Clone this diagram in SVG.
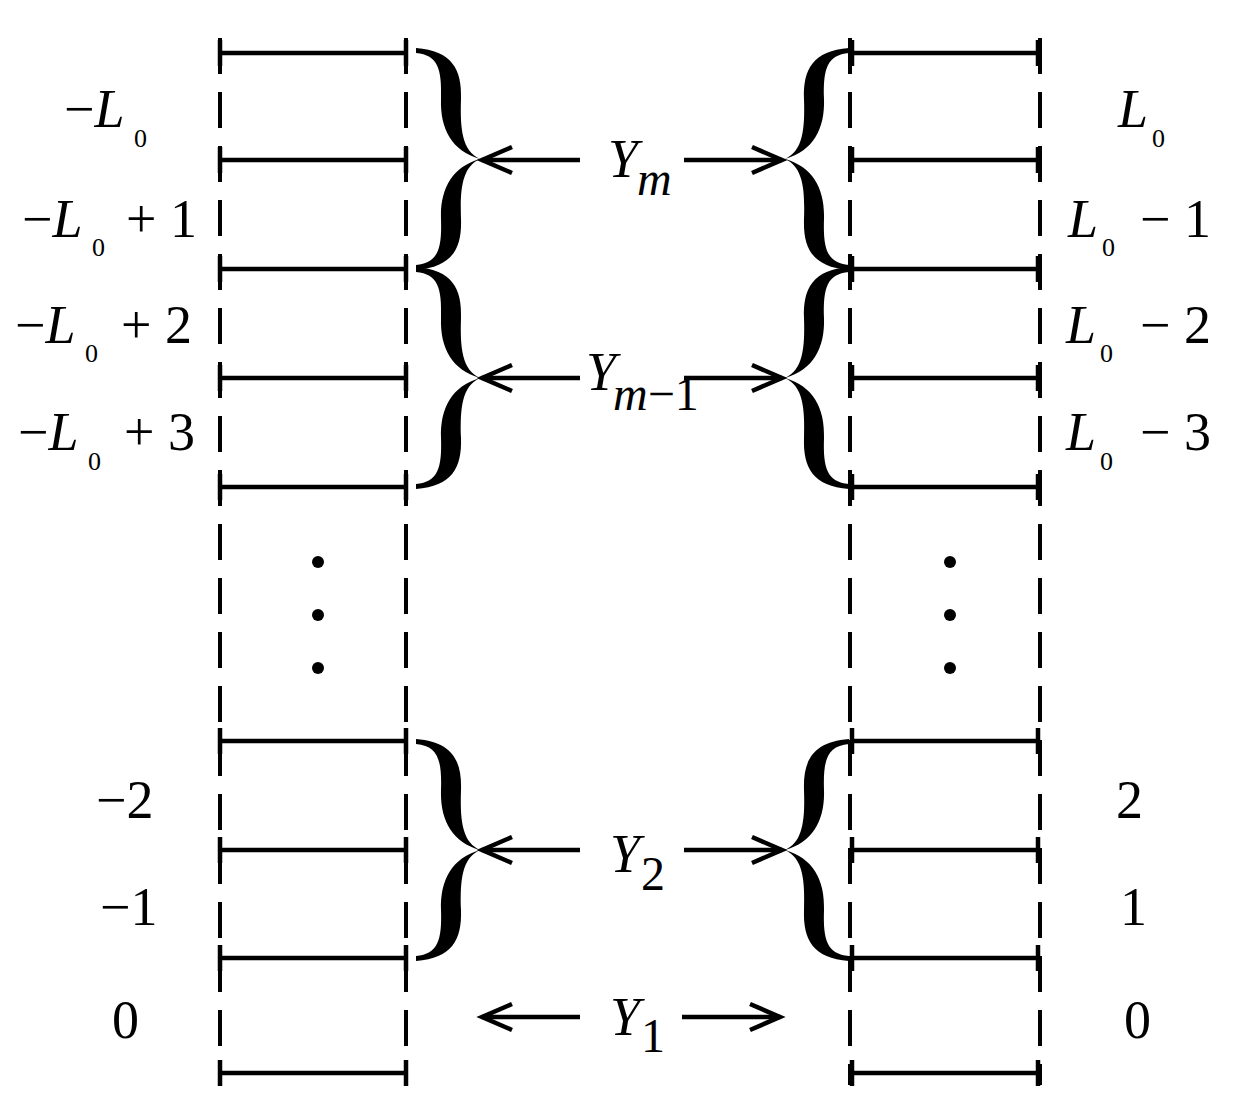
<svg xmlns="http://www.w3.org/2000/svg" width="1248" height="1102" viewBox="0 0 1248 1102" font-family="Liberation Serif, Times New Roman, serif">
<style>
.s{stroke:#000;stroke-width:4.5;fill:none}
.d{stroke:#000;stroke-width:4;fill:none;stroke-dasharray:36 18}
text{font-family:'Liberation Serif','Times New Roman',serif;fill:#000}
.b{font-size:54px}
.sub{font-size:26px}
.i{font-style:italic}
</style>
<defs>
<g id="half"><path d="M-64,-111 C-28,-108 -18,-90 -19,-60 C-20,-30 -18,-8 0,0 C-28,-8 -40,-30 -39,-60 C-38,-90 -42,-104 -64,-106 Z" fill="#000"/></g>
<g id="brace"><use href="#half"/><use href="#half" transform="scale(1,-1)"/></g>
<g id="bar"><line x1="0" y1="0" x2="186" y2="0" class="s"/><line x1="0" y1="-13" x2="0" y2="13" class="s"/><line x1="186" y1="-13" x2="186" y2="13" class="s"/></g>
<g id="la"><line x1="0" y1="0" x2="98" y2="0" class="s"/><polyline points="30,-13 0,0 30,13" class="s"/></g>
</defs>
<g id="columns">
<line x1="220" y1="38" x2="220" y2="1085" class="d"/>
<line x1="406" y1="38" x2="406" y2="1085" class="d"/>
<line x1="850" y1="38" x2="850" y2="1085" class="d"/>
<line x1="1040" y1="38" x2="1040" y2="1085" class="d"/>
</g>
<g id="bars">
<use href="#bar" x="220" y="53"/><use href="#bar" x="220" y="160"/><use href="#bar" x="220" y="269"/><use href="#bar" x="220" y="378"/><use href="#bar" x="220" y="487"/><use href="#bar" x="220" y="741"/><use href="#bar" x="220" y="850"/><use href="#bar" x="220" y="958"/><use href="#bar" x="220" y="1073"/>
<use href="#bar" x="852" y="53"/><use href="#bar" x="852" y="160"/><use href="#bar" x="852" y="269"/><use href="#bar" x="852" y="378"/><use href="#bar" x="852" y="487"/><use href="#bar" x="852" y="741"/><use href="#bar" x="852" y="850"/><use href="#bar" x="852" y="958"/><use href="#bar" x="852" y="1073"/>
</g>
<g id="braces">
<use href="#brace" transform="translate(480,159)"/>
<use href="#brace" transform="translate(480,378)"/>
<use href="#brace" transform="translate(480,850)"/>
<use href="#brace" transform="translate(785,159) scale(-1,1)"/>
<use href="#brace" transform="translate(785,378) scale(-1,1)"/>
<use href="#brace" transform="translate(785,850) scale(-1,1)"/>
</g>
<g id="connectors">
<use href="#la" x="482" y="160"/><use href="#la" transform="translate(782,160) scale(-1,1)"/>
<use href="#la" x="482" y="378"/><use href="#la" transform="translate(782,378) scale(-1,1)"/>
<use href="#la" x="482" y="850"/><use href="#la" transform="translate(782,850) scale(-1,1)"/>
<use href="#la" x="482" y="1017"/><use href="#la" transform="translate(780,1017) scale(-1,1)"/>
</g>
<g id="dots" fill="#000">
<circle cx="318" cy="562" r="6"/><circle cx="318" cy="615" r="6"/><circle cx="318" cy="668" r="6"/>
<circle cx="950" cy="562" r="6"/><circle cx="950" cy="615" r="6"/><circle cx="950" cy="668" r="6"/>
</g>
<g id="ylabels">
<text x="608" y="177" class="b i">Y</text><text x="637" y="195" class="i" style="font-size:48px">m</text>
<text x="586" y="390" class="b i">Y</text><text x="613" y="410" style="font-size:48px"><tspan class="i">m</tspan>−1</text>
<text x="610" y="872" class="b i">Y</text><text x="641" y="890" style="font-size:48px">2</text>
<text x="610" y="1035" class="b i">Y</text><text x="641" y="1052" style="font-size:48px">1</text>
</g>
<g id="leftlabels">
<text x="64" y="127" class="b">−<tspan class="i">L</tspan></text><text x="134" y="147" class="sub">0</text>
<text x="22" y="237" class="b">−<tspan class="i">L</tspan></text><text x="92" y="256" class="sub">0</text><text x="126" y="237" class="b">+ 1</text>
<text x="15" y="343" class="b">−<tspan class="i">L</tspan></text><text x="85" y="362" class="sub">0</text><text x="121" y="343" class="b">+ 2</text>
<text x="18" y="450" class="b">−<tspan class="i">L</tspan></text><text x="88" y="470" class="sub">0</text><text x="124" y="450" class="b">+ 3</text>
<text x="96" y="818" class="b">−2</text>
<text x="100" y="925" class="b">−1</text>
<text x="112" y="1038" class="b">0</text>
</g>
<g id="rightlabels">
<text x="1118" y="127" class="b i">L</text><text x="1152" y="147" class="sub">0</text>
<text x="1068" y="237" class="b i">L</text><text x="1102" y="256" class="sub">0</text><text x="1140" y="237" class="b">− 1</text>
<text x="1066" y="343" class="b i">L</text><text x="1100" y="362" class="sub">0</text><text x="1140" y="343" class="b">− 2</text>
<text x="1066" y="450" class="b i">L</text><text x="1100" y="470" class="sub">0</text><text x="1140" y="450" class="b">− 3</text>
<text x="1116" y="818" class="b">2</text>
<text x="1120" y="925" class="b">1</text>
<text x="1124" y="1038" class="b">0</text>
</g>
</svg>
